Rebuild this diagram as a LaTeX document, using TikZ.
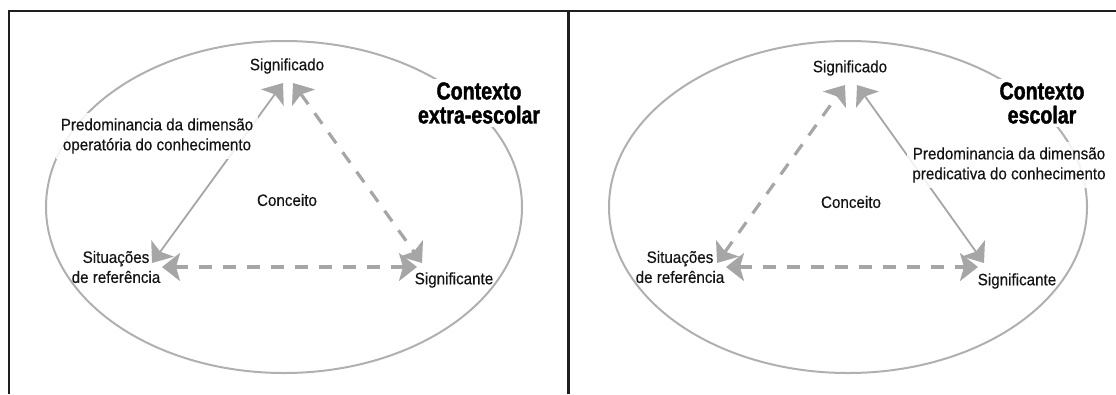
\documentclass[tikz,border=0pt]{standalone}
\usepackage{fontspec}
\setmainfont{Liberation Sans}
\newfontfamily\labelfont[FakeStretch=0.92, FakeBold=0.4]{Liberation Sans}
\newfontfamily\titlefont[FakeStretch=0.8, BoldFeatures={FakeBold=1.5}]{Liberation Sans}
\usetikzlibrary{arrows.meta}

\definecolor{ellgray}{HTML}{B0B0B0}
\definecolor{arrgray}{HTML}{A6A6A6}
\definecolor{framecol}{HTML}{1E1E1E}

\tikzset{
  ctx/.style={draw=ellgray, line width=2pt},
  lbl/.style={font=\labelfont\fontsize{16.5}{20}\selectfont, text=black!92, align=center, inner sep=1pt},
  halo/.style={fill=white, fill opacity=0.85, text opacity=1, inner sep=5pt},
  ttl/.style={font=\titlefont\bfseries\fontsize{24.5}{24}\selectfont, text=black, align=center,
              fill=white, inner sep=3pt},
  bighead/.tip={Stealth[length=18pt 0 0, width=28pt 0 0, inset=4pt 0]},
  solidlink/.style={draw=arrgray, color=arrgray, line width=1.8pt, bighead-bighead},
  dashlink/.style={draw=arrgray, color=arrgray, line width=3.2pt, dash pattern=on 13pt off 11pt,
                   bighead-bighead},
}

\begin{document}
\begin{tikzpicture}[x=1pt, y=-1pt]
  \useasboundingbox (0,0) rectangle (1116,394);

  % outer frame and panel divider
  \coordinate (fbl) at (9,394);
  \coordinate (ftl) at (9,11);
  \coordinate (ftr) at (1116,11);
  \coordinate (dtop) at (568,11);
  \coordinate (dbot) at (568,394);
  \draw[framecol, line width=1.4pt] (fbl) -- (ftl) -- (ftr);
  \draw[framecol, line width=3pt] (dtop) -- (dbot);

  % ---------- left panel: extra-school context ----------
  \draw[ctx] (284,207) ellipse [x radius=238, y radius=166];

  \coordinate (Ltl) at (283,83);
  \coordinate (Ltr) at (293,83);
  \coordinate (Lbl) at (152,263);
  \coordinate (Lbr) at (422,263);
  \coordinate (Lhl) at (162,267);
  \coordinate (Lhr) at (417,267);

  \draw[solidlink] (Lbl) -- (Ltl);
  \draw[dashlink] (Ltr) -- (Lbr);
  \draw[dashlink] (Lhl) -- (Lhr);

  \node[lbl] (Lsdo) at (287,66) {Significado};
  \node[lbl] (Lcon) at (287,200) {Conceito};
  \node[lbl] (Lsit) at (116,267) {Situações\\de referência};
  \node[lbl] (Lsnte) at (454,280) {Significante};
  \node[lbl, halo] (Lpred) at (157,136) {Predominancia da dimensão\\operatória do conhecimento};
  \node[ttl] (Lctx) at (479,103) {Contexto\\extra-escolar};

  % ---------- right panel: school context ----------
  \draw[ctx] (848,207) ellipse [x radius=239, y radius=166];

  \coordinate (Rtl) at (845,85);
  \coordinate (Rtr) at (857,85);
  \coordinate (Rbl) at (717,263);
  \coordinate (Rbr) at (984,263);
  \coordinate (Rhl) at (726,267);
  \coordinate (Rhr) at (978,267);

  \draw[dashlink] (Rbl) -- (Rtl);
  \draw[solidlink] (Rtr) -- (Rbr);
  \draw[dashlink] (Rhl) -- (Rhr);

  \node[lbl] (Rsdo) at (850,68) {Significado};
  \node[lbl] (Rcon) at (851,202) {Conceito};
  \node[lbl] (Rsit) at (680,267) {Situações\\de referência};
  \node[lbl] (Rsnte) at (1017,281) {Significante};
  \node[lbl, halo] (Rpred) at (1009,165) {Predominancia da dimensão\\predicativa do conhecimento};
  \node[ttl] (Rctx) at (1042,103) {Contexto\\escolar};
\end{tikzpicture}
\end{document}
